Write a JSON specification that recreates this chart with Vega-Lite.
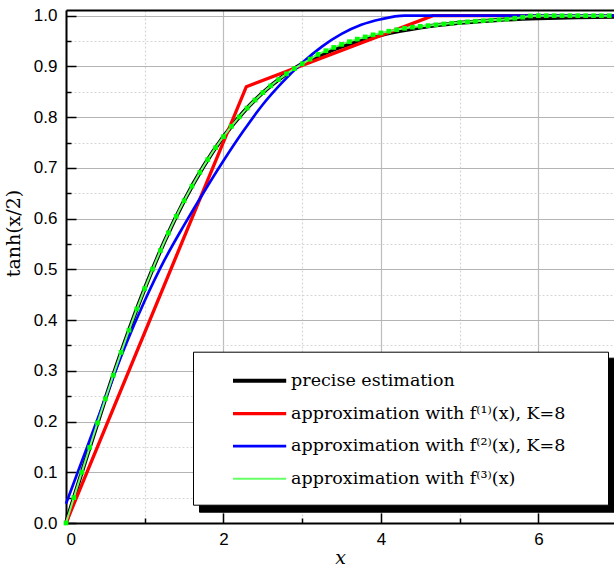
{
  "$schema": "https://vega.github.io/schema/vega-lite/v6.json",
  "width": 548,
  "height": 513,
  "autosize": "none",
  "padding": {"left": 66, "top": 10, "right": 0, "bottom": 47},
  "background": "white",
  "config": {"view": {"stroke": null}, "font": "Liberation Sans"},
  "datasets": {
    "p": [
      {"x": 0, "y": 0}, {"x": 0.25, "y": 0.1244}, {"x": 0.5, "y": 0.2449}, {"x": 0.75, "y": 0.3584},
      {"x": 1, "y": 0.4621}, {"x": 1.25, "y": 0.5546}, {"x": 1.5, "y": 0.6351}, {"x": 1.75, "y": 0.7039},
      {"x": 2, "y": 0.7616}, {"x": 2.25, "y": 0.8094}, {"x": 2.5, "y": 0.8483}, {"x": 2.75, "y": 0.88},
      {"x": 3, "y": 0.9051}, {"x": 3.25, "y": 0.9237}, {"x": 3.5, "y": 0.9389}, {"x": 3.75, "y": 0.9516},
      {"x": 4, "y": 0.962}, {"x": 4.25, "y": 0.9702}, {"x": 4.5, "y": 0.9768}, {"x": 5, "y": 0.986},
      {"x": 5.5, "y": 0.9916}, {"x": 6, "y": 0.995}, {"x": 6.5, "y": 0.997}, {"x": 7, "y": 0.9982}
    ],
    "f1": [
      {"x": 0, "y": 0}, {"x": 2.29, "y": 0.86}, {"x": 4.66, "y": 1.0}, {"x": 7, "y": 1.0}
    ],
    "f2": [
      {"x": 0, "y": 0.038}, {"x": 0.25, "y": 0.142}, {"x": 0.5, "y": 0.246}, {"x": 0.75, "y": 0.348},
      {"x": 1.0, "y": 0.438}, {"x": 1.25, "y": 0.518}, {"x": 1.5, "y": 0.587}, {"x": 1.75, "y": 0.652},
      {"x": 2.0, "y": 0.714}, {"x": 2.25, "y": 0.772}, {"x": 2.5, "y": 0.825}, {"x": 2.75, "y": 0.869},
      {"x": 3.0, "y": 0.907}, {"x": 3.25, "y": 0.939}, {"x": 3.5, "y": 0.964}, {"x": 3.75, "y": 0.982},
      {"x": 4.0, "y": 0.993}, {"x": 4.3, "y": 1.0}, {"x": 7, "y": 1.0}
    ],
    "f3": [
      {"x": 0, "y": 0}, {"x": 0.1, "y": 0.05}, {"x": 0.2, "y": 0.0997}, {"x": 0.3, "y": 0.1489},
      {"x": 0.4, "y": 0.1974}, {"x": 0.5, "y": 0.2449}, {"x": 0.6, "y": 0.2913}, {"x": 0.7, "y": 0.3364},
      {"x": 0.8, "y": 0.38}, {"x": 0.9, "y": 0.4219}, {"x": 1.0, "y": 0.4621}, {"x": 1.1, "y": 0.5005},
      {"x": 1.2, "y": 0.5371}, {"x": 1.3, "y": 0.5717}, {"x": 1.4, "y": 0.6044}, {"x": 1.5, "y": 0.6352},
      {"x": 1.6, "y": 0.664}, {"x": 1.7, "y": 0.6911}, {"x": 1.8, "y": 0.7163}, {"x": 1.9, "y": 0.7398},
      {"x": 2.0, "y": 0.7616}, {"x": 2.1, "y": 0.7818}, {"x": 2.2, "y": 0.8005}, {"x": 2.3, "y": 0.8178},
      {"x": 2.4, "y": 0.8337}, {"x": 2.5, "y": 0.8483}, {"x": 2.6, "y": 0.8617}, {"x": 2.7, "y": 0.8741},
      {"x": 2.8, "y": 0.8854}, {"x": 2.9, "y": 0.8957}, {"x": 3.0, "y": 0.9052}, {"x": 3.1, "y": 0.9143},
      {"x": 3.2, "y": 0.9237}, {"x": 3.3, "y": 0.9309}, {"x": 3.4, "y": 0.9374}, {"x": 3.5, "y": 0.9434},
      {"x": 3.6, "y": 0.9488}, {"x": 3.7, "y": 0.9538}, {"x": 3.8, "y": 0.9582}, {"x": 3.9, "y": 0.9623},
      {"x": 4.0, "y": 0.966}, {"x": 4.1, "y": 0.9694}, {"x": 4.2, "y": 0.9724}, {"x": 4.3, "y": 0.9751},
      {"x": 4.4, "y": 0.9773}, {"x": 4.5, "y": 0.979}, {"x": 4.6, "y": 0.9804}, {"x": 4.7, "y": 0.982},
      {"x": 4.8, "y": 0.9837}, {"x": 4.9, "y": 0.9852}, {"x": 5.0, "y": 0.9866}, {"x": 5.1, "y": 0.9879},
      {"x": 5.2, "y": 0.989}, {"x": 5.3, "y": 0.9901}, {"x": 5.4, "y": 0.991}, {"x": 5.5, "y": 0.9919},
      {"x": 5.6, "y": 0.993}, {"x": 5.7, "y": 0.995}, {"x": 5.8, "y": 0.997}, {"x": 5.9, "y": 0.9995},
      {"x": 6.0, "y": 1.0}, {"x": 6.1, "y": 1.0}, {"x": 6.2, "y": 1.0}, {"x": 6.3, "y": 1.0},
      {"x": 6.4, "y": 1.0}, {"x": 6.5, "y": 1.0}, {"x": 6.6, "y": 1.0}, {"x": 6.7, "y": 1.0},
      {"x": 6.8, "y": 1.0}, {"x": 6.9, "y": 1.0}
    ]
  },
  "encoding": {
    "x": {"field": "x", "type": "quantitative", "scale": {"domain": [0, 6.96], "nice": false, "zero": false}, "axis": null},
    "y": {
      "field": "y", "type": "quantitative",
      "scale": {"domain": [0, 1.0112], "nice": false},
      "axis": {
        "values": [0, 0.05, 0.1, 0.15, 0.2, 0.25, 0.3, 0.35, 0.4, 0.45, 0.5, 0.55, 0.6, 0.65, 0.7, 0.75, 0.8, 0.85, 0.9, 0.95, 1.0],
        "format": ".1f",
        "labelExpr": "round(datum.value*100) % 10 == 0 ? datum.label : ''",
        "grid": true,
        "gridColor": {"condition": {"test": "round(datum.value*100) % 10 != 0", "value": "#d6d6d6"}, "value": "#b4b4b4"},
        "gridDash": {"condition": {"test": "round(datum.value*100) % 10 != 0", "value": [2, 2]}, "value": []},
        "gridWidth": 1,
        "tickSize": {"condition": {"test": "round(datum.value*100) % 10 != 0", "value": -5}, "value": -10},
        "tickColor": "black", "tickWidth": 1.5,
        "domainColor": "black", "domainWidth": 2,
        "labelFont": "Liberation Sans", "labelFontSize": 17, "labelColor": "black", "labelPadding": 19,
        "title": "tanh(x/2)", "titleFont": "DejaVu Serif", "titleFontSize": 19, "titleFontWeight": "normal", "titleColor": "black",
        "titleY": 223, "titlePadding": 10
      }
    },
    "color": {
      "field": "s", "type": "nominal",
      "scale": {"domain": ["p", "f1", "f2", "f3"], "range": ["#000000", "#ff0000", "#0000ff", "#66ff66"]},
      "legend": {
        "orient": "none", "legendX": 127, "legendY": 341.7, "zindex": 2,
        "title": ".", "titleOrient": "right", "titleOpacity": 0, "titleFont": "DejaVu Serif", "titleFontSize": 17.5, "titlePadding": 18.5,
        "symbolType": "M-2.8,0H2.8", "symbolSize": 361, "labelFont": "DejaVu Serif", "labelFontSize": 17.5, "labelColor": "black",
        "labelLimit": 500, "labelOffset": 20, "padding": 17.5, "symbolOffset": 37.6, "rowPadding": 13,
        "fillColor": "white", "strokeColor": "black",
        "labelExpr": "datum.value == 'p' ? 'precise estimation' : datum.value == 'f1' ? 'approximation with f⁽¹⁾(x), K=8' : datum.value == 'f2' ? 'approximation with f⁽²⁾(x), K=8' : 'approximation with f⁽³⁾(x)'"
      }
    },
    "strokeWidth": {
      "field": "s", "type": "ordinal",
      "scale": {"domain": ["p", "f1", "f2", "f3"], "range": [4, 2, 1.5, 1]},
      "legend": {
        "orient": "none", "legendX": 127, "legendY": 341.7, "zindex": 2,
        "title": ".", "titleOrient": "right", "titleOpacity": 0, "titleFont": "DejaVu Serif", "titleFontSize": 17.5, "titlePadding": 18.5,
        "symbolType": "M-2.8,0H2.8", "symbolSize": 361, "labelFont": "DejaVu Serif", "labelFontSize": 17.5, "labelColor": "black",
        "labelLimit": 500, "labelOffset": 20, "padding": 17.5, "symbolOffset": 37.6, "rowPadding": 13,
        "fillColor": "white", "strokeColor": "black",
        "labelExpr": "datum.value == 'p' ? 'precise estimation' : datum.value == 'f1' ? 'approximation with f⁽¹⁾(x), K=8' : datum.value == 'f2' ? 'approximation with f⁽²⁾(x), K=8' : 'approximation with f⁽³⁾(x)'"
      }
    }
  },
  "layer": [
    {
      "data": {"name": "p"},
      "transform": [{"calculate": "'p'", "as": "s"}],
      "mark": {"type": "line", "interpolate": "monotone"},
      "encoding": {
        "x": {
          "field": "x", "type": "quantitative", "scale": {"domain": [0, 6.96], "nice": false, "zero": false},
          "axis": {
            "values": [0, 1, 2, 3, 4, 5, 6],
            "format": "d",
            "labelExpr": "datum.value % 2 == 0 ? datum.label : ''",
            "grid": true,
            "gridColor": {"condition": {"test": "datum.value % 2 != 0", "value": "#d6d6d6"}, "value": "#bdbdbd"},
            "gridDash": {"condition": {"test": "datum.value % 2 != 0", "value": [2, 2]}, "value": []},
            "gridWidth": 1.2,
            "tickSize": {"condition": {"test": "datum.value % 2 != 0", "value": -5}, "value": -10},
            "tickColor": "black", "tickWidth": 1.5,
            "domainColor": "black", "domainWidth": 2,
            "labelFont": "Liberation Sans", "labelFontSize": 17, "labelColor": "black", "labelPadding": 18.5,
            "title": "x", "titleFont": "DejaVu Serif", "titleFontSize": 19, "titleFontStyle": "italic", "titleFontWeight": "normal", "titleColor": "black",
            "titlePadding": 1
          }
        },
        "opacity": {
          "field": "s", "type": "ordinal",
          "scale": {"domain": ["f3", "f2", "f1", "p"], "range": [1, 1, 1, 1]},
          "legend": {
            "orient": "none", "legendX": 133, "legendY": 347.7, "zindex": 1,
            "title": ".", "titleOrient": "right", "titleOpacity": 0, "titleFont": "DejaVu Serif", "titleFontSize": 17.5, "titlePadding": 18.5,
            "symbolType": "M-2.8,0H2.8", "symbolSize": 361, "symbolStrokeWidth": 4,
            "labelFont": "DejaVu Serif", "labelFontSize": 17.5, "labelOpacity": 0,
            "labelLimit": 500, "labelOffset": 20, "padding": 17.5, "symbolOffset": 37.6, "rowPadding": 13,
            "fillColor": "black", "strokeColor": "black",
            "labelExpr": "datum.value == 'p' ? 'precise estimation' : datum.value == 'f1' ? 'approximation with f⁽¹⁾(x), K=8' : datum.value == 'f2' ? 'approximation with f⁽²⁾(x), K=8' : 'approximation with f⁽³⁾(x)'"
          }
        }
      }
    },
    {
      "data": {"name": "f1"},
      "transform": [{"calculate": "'f1'", "as": "s"}],
      "mark": {"type": "line", "interpolate": "linear"}
    },
    {
      "data": {"name": "f2"},
      "transform": [{"calculate": "'f2'", "as": "s"}],
      "mark": {"type": "line", "interpolate": "monotone"}
    },
    {
      "data": {"name": "f3"},
      "transform": [{"calculate": "'f3'", "as": "s"}],
      "mark": {"type": "line", "interpolate": "monotone"}
    },
    {
      "data": {"name": "f3"},
      "mark": {"type": "point", "shape": "square", "size": 22, "filled": true, "color": "#00ff00", "opacity": 1},
      "encoding": {
        "x": {
          "field": "x", "type": "quantitative", "scale": {"domain": [0, 6.96], "nice": false, "zero": false},
          "axis": {"orient": "top", "grid": false, "ticks": false, "labels": false, "title": null, "domainColor": "black", "domainWidth": 2}
        },
        "color": {"value": "#00ff00"},
        "strokeWidth": {"value": 0}
      }
    }
  ],
  "resolve": {"axis": {"x": "independent"}}
}
